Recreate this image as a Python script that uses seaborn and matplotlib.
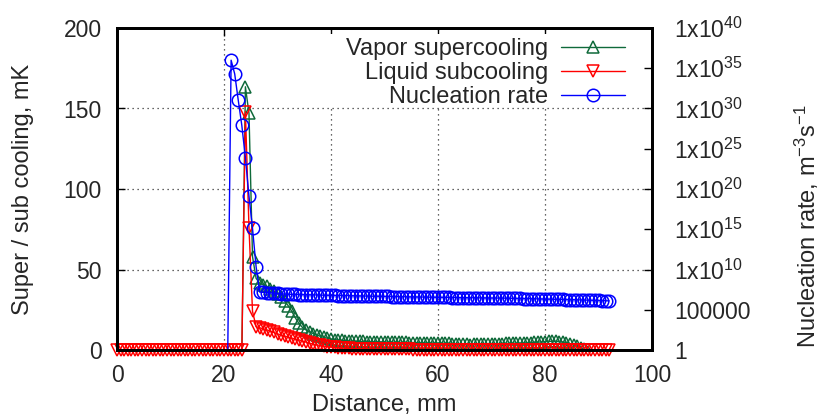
import numpy as np
import pandas as pd
import matplotlib
matplotlib.use("Agg")
import matplotlib.pyplot as plt
import seaborn as sns
from matplotlib.patches import Rectangle

# Distance along the channel, mm
distance = [
    0.00, 0.67, 1.33, 2.00, 2.67, 3.33, 4.00, 4.67, 5.33, 6.00,
    6.67, 7.33, 8.00, 8.67, 9.33, 10.00, 10.67, 11.33, 12.00, 12.67,
    13.33, 14.00, 14.67, 15.33, 16.00, 16.67, 17.33, 18.00, 18.67, 19.33,
    20.00, 20.67, 21.33, 22.00, 22.67, 23.33, 24.00, 24.67, 25.33, 26.00,
    26.67, 27.33, 28.00, 28.67, 29.33, 30.00, 30.67, 31.33, 32.00, 32.67,
    33.33, 34.00, 34.67, 35.33, 36.00, 36.67, 37.33, 38.00, 38.67, 39.33,
    40.00, 40.67, 41.33, 42.00, 42.67, 43.33, 44.00, 44.67, 45.33, 46.00,
    46.67, 47.33, 48.00, 48.67, 49.33, 50.00, 50.67, 51.33, 52.00, 52.67,
    53.33, 54.00, 54.67, 55.33, 56.00, 56.67, 57.33, 58.00, 58.67, 59.33,
    60.00, 60.67, 61.33, 62.00, 62.67, 63.33, 64.00, 64.67, 65.33, 66.00,
    66.67, 67.33, 68.00, 68.67, 69.33, 70.00, 70.67, 71.33, 72.00, 72.67,
    73.33, 74.00, 74.67, 75.33, 76.00, 76.67, 77.33, 78.00, 78.67, 79.33,
    80.00, 80.67, 81.33, 82.00, 82.67, 83.33, 84.00, 84.67, 85.33, 86.00,
    86.67, 87.33, 88.00, 88.67, 89.33, 90.00, 90.67, 91.33, 92.00,
]

nan = float("nan")

# Vapor supercooling, mK (nan / negative = off the plotted range)
vapor_supercooling = [
    nan, nan, nan, nan, nan, nan, nan, nan, nan, nan,
    nan, nan, nan, nan, nan, nan, nan, nan, nan, nan,
    nan, nan, nan, nan, nan, nan, nan, nan, nan, nan,
    nan, nan, nan, nan, nan, -5, 163.5, 147, 58, 44.5,
    41.5, 40.5, 39.5, 38, 36.5, 35, 33, 30.5, 27.5, 24,
    20, 16.5, 14, 12.5, 11.2, 10.2, 9.3, 8.5, 7.8, 7.3,
    6.9, 6.5, 6.2, 6.0, 5.8, 5.6, 5.5, 5.4, 5.3, 5.3,
    5.2, 5.2, 5.1, 5.1, 5.0, 5.0, 4.9, 4.9, 4.8, 4.8,
    4.7, 4.7, 4.6, 4.6, 4.5, 4.5, 4.5, 4.4, 4.4, 4.3,
    4.3, 4.2, 4.2, 4.1, 4.0, 3.9, 3.8, 3.6, 3.5, 3.4,
    3.5, 3.6, 3.8, 3.9, 4.0, 4.0, 3.9, 3.9, 4.0, 4.1,
    4.1, 4.2, 4.2, 4.3, 4.4, 4.5, 4.6, 4.7, 4.9, 5.0,
    5.2, 5.3, 5.4, 5.3, 5.2, 5.0, 4.6, 4.0, 3.2, 2.2,
    1.2, 0.5, -1, nan, nan, nan, nan, nan, nan,
]

# Liquid subcooling, mK
liquid_subcooling = [
    0, 0, 0, 0, 0, 0, 0, 0, 0, 0,
    0, 0, 0, 0, 0, 0, 0, 0, 0, 0,
    0, 0, 0, 0, 0, 0, 0, 0, 0, 0,
    0, 0, 0, 0, 0, 0, 148, 76, 24, 14.5,
    13.8, 13.2, 12.5, 11.8, 10.9, 10.0, 9.4, 8.7, 8.0, 7.4,
    6.8, 6.3, 5.6, 4.9, 4.2, 3.7, 3.2, 2.8, 2.4, 2.1,
    1.8, 1.6, 1.4, 1.2, 1.1, 1.0, 0.9, 0.8, 0.8, 0.7,
    0.7, 0.6, 0.6, 0.6, 0.5, 0.5, 0.5, 0.5, 0.4, 0.4,
    0.4, 0.4, 0.4, 0.3, 0.3, 0.3, 0.3, 0.3, 0.3, 0.3,
    0.3, 0.3, 0.3, 0.2, 0.2, 0.2, 0.2, 0.2, 0.2, 0.2,
    0.2, 0.2, 0.2, 0.2, 0.2, 0.2, 0.2, 0.2, 0.2, 0.2,
    0.2, 0.2, 0.2, 0.2, 0.2, 0.2, 0.2, 0.2, 0.2, 0.2,
    0.2, 0.1, 0.1, 0.1, 0.1, 0.1, 0.1, 0.1, 0.1, 0.1,
    0.1, 0.1, 0.1, 0.1, 0.1, 0.1, 0.1, 0.1, 0.1,
]

# Nucleation rate, log10 of m^-3 s^-1 (nan = zero rate, not drawn on log axis)
nucleation_log10 = [
    nan, nan, nan, nan, nan, nan, nan, nan, nan, nan,
    nan, nan, nan, nan, nan, nan, nan, nan, nan, nan,
    nan, nan, nan, nan, nan, nan, nan, nan, nan, nan,
    nan, -2.0, 36.0, 34.3, 31.0, 27.9, 23.9, 19.1, 15.1, 10.35,
    7.20, 7.17, 7.14, 7.10, 7.06, 7.02, 6.98, 6.95, 6.93, 6.91,
    6.90, 6.89, 6.88, 6.87, 6.86, 6.85, 6.84, 6.82, 6.81, 6.80,
    6.79, 6.78, 6.77, 6.77, 6.76, 6.75, 6.74, 6.73, 6.72, 6.71,
    6.70, 6.69, 6.68, 6.68, 6.67, 6.66, 6.65, 6.64, 6.63, 6.62,
    6.62, 6.61, 6.60, 6.60, 6.59, 6.58, 6.58, 6.57, 6.56, 6.56,
    6.55, 6.54, 6.54, 6.53, 6.52, 6.52, 6.51, 6.50, 6.50, 6.49,
    6.49, 6.48, 6.48, 6.47, 6.47, 6.46, 6.46, 6.45, 6.45, 6.44,
    6.43, 6.42, 6.41, 6.40, 6.39, 6.38, 6.37, 6.36, 6.35, 6.34,
    6.33, 6.32, 6.31, 6.30, 6.29, 6.28, 6.27, 6.26, 6.25, 6.24,
    6.22, 6.21, 6.19, 6.18, 6.16, 6.15, 6.13, 6.12, 6.10,
]

series_labels = ["Vapor supercooling", "Liquid subcooling", "Nucleation rate"]
x_ticks = [0, 20, 40, 60, 80, 100]
y_ticks = [0, 50, 100, 150, 200]
rate_exponents = [0, 5, 10, 15, 20, 25, 30, 35, 40]
rate_tick_labels = ["1", "100000", "1x10$^{10}$", "1x10$^{15}$", "1x10$^{20}$",
                    "1x10$^{25}$", "1x10$^{30}$", "1x10$^{35}$", "1x10$^{40}$"]

df = pd.DataFrame({
    "distance": distance,
    "vapor": vapor_supercooling,
    "liquid": liquid_subcooling,
    "rate": 10.0 ** np.array(nucleation_log10),
})

sns.set_theme(style="white")
plt.rcParams["font.family"] = ["Liberation Sans", "DejaVu Sans"]
plt.rcParams["mathtext.fontset"] = "custom"
plt.rcParams["mathtext.rm"] = "Liberation Sans"
plt.rcParams["mathtext.it"] = "Liberation Sans"
plt.rcParams["mathtext.default"] = "regular"

green = "#0f6a3a"
red = "#ff0000"
blue = "#0000ff"
fs = 16.5

fig = plt.figure(figsize=(8.21, 4.19), dpi=100)
ax = fig.add_axes([117 / 821, 1 - 350 / 419, 535 / 821, 322 / 419])
ax2 = ax.twinx()

style = dict(linewidth=1, markersize=9, mfc="none", mew=1.1, estimator=None,
             sort=False, legend=False)

sns.lineplot(data=df, x="distance", y="vapor", ax=ax, color=green, marker="^",
             mec=green, **style)
sns.lineplot(data=df, x="distance", y="liquid", ax=ax, color=red, marker="v",
             mec=red, clip_on=False, **style)

ax2.set_yscale("log")
sns.lineplot(data=df, x="distance", y="rate", ax=ax2, color=blue, marker="o",
             mec=blue, **style)

# Left axis
ax.set_xlim(0, 100)
ax.set_ylim(0, 200)
ax.set_xticks(x_ticks)
ax.set_yticks(y_ticks)
ax.set_axisbelow(True)
ax.grid(True, color="0.2", linestyle=(0, (1, 3)), linewidth=0.9)
ax.tick_params(direction="in", length=6, width=1, top=True, right=False,
               labelsize=fs, color="black")
ax.tick_params(axis="x", pad=10)
ax.tick_params(axis="y", pad=11)

# key area hides the grid
ax.add_patch(Rectangle((0.395, 0.755), 0.605, 0.225, transform=ax.transAxes,
                       facecolor="white", edgecolor="none", zorder=1))

# Right axis
ax2.set_ylim(1, 1e40)
ax2.set_yticks([10.0 ** e for e in rate_exponents])
ax2.set_yticklabels(rate_tick_labels)
ax2.minorticks_off()
ax2.grid(False)
ax2.tick_params(direction="in", length=6, width=1, pad=16, labelsize=fs,
                color="black")

for a in (ax, ax2):
    for s in a.spines.values():
        s.set_linewidth(2)
        s.set_color("black")

ax.set_xlabel("Distance, mm", fontsize=17)
ax.xaxis.label.set_va("center")
ax.xaxis.set_label_coords(0.5, -0.172)
ax.set_ylabel("Super / sub cooling, mK", fontsize=17)
ax.yaxis.label.set_va("center")
ax.yaxis.set_label_coords(-0.176, 0.5)
ax2.set_ylabel("Nucleation rate, m$^{-3}$s$^{-1}$", fontsize=17, rotation=90)
ax2.yaxis.label.set_va("center")
ax2.yaxis.set_label_coords(1.29, 0.384)

handles = [ax.lines[0], ax.lines[1], ax2.lines[0]]
ax2.legend(handles, series_labels, loc="upper right",
           bbox_to_anchor=(0.9495, 0.968), bbox_transform=ax.transAxes,
           frameon=False, markerfirst=False, handlelength=2.7,
           handletextpad=0.55, labelspacing=0.08, borderpad=0,
           borderaxespad=0, fontsize=17)

fig.savefig("out.png", dpi=100)
